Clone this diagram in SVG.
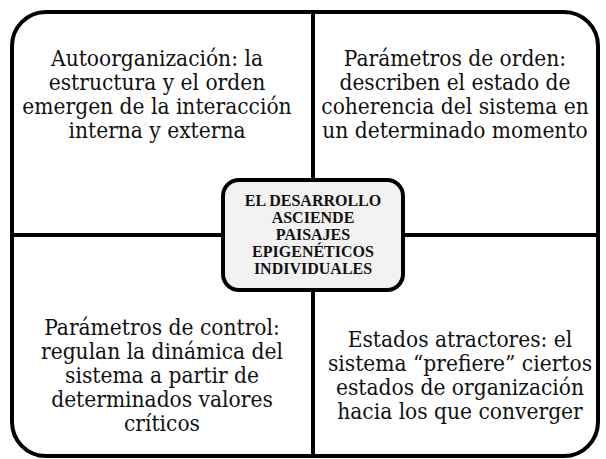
<svg xmlns="http://www.w3.org/2000/svg" width="606" height="459" viewBox="0 0 606 459">
<style>
.q{font-family:"DejaVu Serif Condensed","Liberation Serif",serif;font-size:22.5px;fill:#111;text-anchor:middle}
.c{font-family:"Liberation Serif",serif;font-size:16px;font-weight:bold;fill:#111;text-anchor:middle}
.ln{stroke:#000;stroke-width:4;fill:none}
</style>
<rect width="606" height="459" fill="#fff"/>
<g id="connectors">
<line class="ln" x1="313" y1="12" x2="313" y2="456"/>
<line class="ln" x1="12" y1="235" x2="598" y2="235"/>
</g>
<g id="frame">
<rect class="ln" x="12" y="12" width="586" height="444" rx="34" ry="34"/>
</g>
<g id="q1">
<text class="q" x="157" y="66">Autoorganización: la</text>
<text class="q" x="157" y="90">estructura y el orden</text>
<text class="q" x="157" y="114">emergen de la interacción</text>
<text class="q" x="157" y="138">interna y externa</text>
</g>
<g id="q2">
<text class="q" x="455" y="66">Parámetros de orden:</text>
<text class="q" x="455" y="90">describen el estado de</text>
<text class="q" x="455" y="114">coherencia del sistema en</text>
<text class="q" x="455" y="138">un determinado momento</text>
</g>
<g id="q3">
<text class="q" x="162" y="335">Parámetros de control:</text>
<text class="q" x="162" y="359">regulan la dinámica del</text>
<text class="q" x="162" y="383">sistema a partir de</text>
<text class="q" x="162" y="407">determinados valores</text>
<text class="q" x="162" y="431">críticos</text>
</g>
<g id="q4">
<text class="q" x="460" y="347">Estados atractores: el</text>
<text class="q" x="460" y="371">sistema “prefiere” ciertos</text>
<text class="q" x="460" y="395">estados de organización</text>
<text class="q" x="460" y="419">hacia los que converger</text>
</g>
<g id="center">
<rect x="223" y="180" width="180" height="110" rx="16" ry="16" fill="#f2f2f2" stroke="#000" stroke-width="4"/>
<text class="c" x="313" y="206">EL DESARROLLO</text>
<text class="c" x="313" y="223">ASCIENDE</text>
<text class="c" x="313" y="240">PAISAJES</text>
<text class="c" x="313" y="257">EPIGENÉTICOS</text>
<text class="c" x="313" y="274">INDIVIDUALES</text>
</g>
</svg>
